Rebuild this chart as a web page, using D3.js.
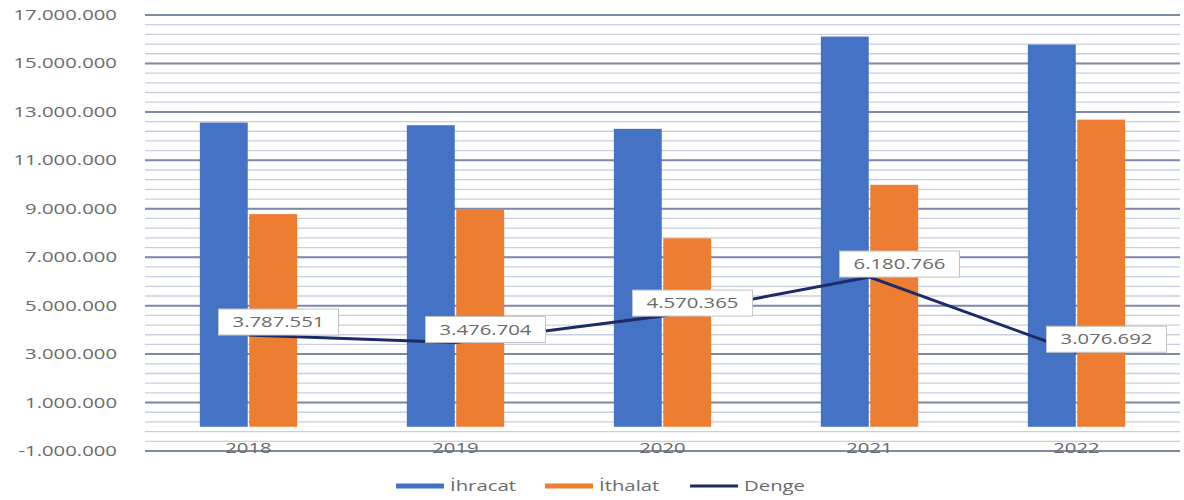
<!DOCTYPE html>
<html><head><meta charset="utf-8">
<script src="https://cdn.jsdelivr.net/npm/d3@7"></script>
<style>
html,body{margin:0;padding:0;background:#fff;}
text{font-family:"Open Sans",sans-serif;fill:#666;}
</style></head>
<body><svg id="c" width="1184" height="500"></svg>
<script>
const years = ["2018","2019","2020","2021","2022"];
const ihracat = [12560000, 12450000, 12300000, 16110000, 15780000];
const ithalat = [8780000, 8970000, 7780000, 9990000, 12680000];
const denge = [3787551, 3476704, 4570365, 6180766, 3076692];
const yTicks = [-1000000, 1000000, 3000000, 5000000, 7000000, 9000000, 11000000, 13000000, 15000000, 17000000];
const seriesNames = ["İhracat", "İthalat", "Denge"];

(function () {
const SX = 1.45;
const svg = d3.select("#c");
const pLeft = 145, pRight = 1180, pTop = 15, pBottom = 451;
const y = d3.scaleLinear().domain([-1000000, 17000000]).range([pBottom, pTop]);
const x = d3.scaleBand().domain(years).range([pLeft, pRight]).padding(0);
const groupW = x.bandwidth() * 0.47;
const x1 = d3.scaleBand().domain([0, 1]).range([0, groupW]).paddingInner(0.03);
const loc = d3.formatLocale({decimal: ",", thousands: ".", grouping: [3], currency: ["", ""], minus: "-"});
const fmt = loc.format(",");

function stretch(sel) {
  sel.each(function () {
    const w = this.getComputedTextLength();
    d3.select(this).attr("textLength", w * SX).attr("lengthAdjust", "spacingAndGlyphs");
  });
}

const minor = d3.range(-1000000, 17000001, 400000);
svg.append("g").selectAll("line").data(minor).join("line")
  .attr("x1", pLeft).attr("x2", pRight)
  .attr("y1", d => y(d)).attr("y2", d => y(d))
  .attr("stroke", "#c9cee2").attr("stroke-width", 1.3);

svg.append("g").selectAll("line").data(yTicks).join("line")
  .attr("x1", pLeft).attr("x2", pRight)
  .attr("y1", d => y(d)).attr("y2", d => y(d))
  .attr("stroke", "#7e88a8").attr("stroke-width", 2);

const yl = svg.append("g").selectAll("text").data(yTicks).join("text")
  .attr("x", 117).attr("y", d => y(d) + 5)
  .attr("text-anchor", "end").attr("font-size", 14).style("fill", "#6a6a6a")
  .text(d => fmt(d));
stretch(yl);

const colors = ["#4472c4", "#ed7d31"];
[ihracat, ithalat].forEach((arr, si) => {
  svg.append("g").selectAll("rect").data(arr).join("rect")
    .attr("x", (d, i) => x(years[i]) + (x.bandwidth() - groupW) / 2 + x1(si))
    .attr("width", x1.bandwidth())
    .attr("y", d => y(d))
    .attr("height", d => y(0) - y(d))
    .attr("fill", colors[si]);
});

const xl = svg.append("g").selectAll("text").data(years).join("text")
  .attr("x", d => x(d) + x.bandwidth() / 2).attr("y", 453)
  .attr("text-anchor", "middle").attr("font-size", 14).style("fill", "#6a6a6a")
  .text(d => d);
stretch(xl);

const cx = i => x(years[i]) + x.bandwidth() / 2;
const line = d3.line().x((d, i) => cx(i)).y(d => y(d));
svg.append("path").datum(denge).attr("d", line)
  .attr("fill", "none").attr("stroke", "#1c2a66").attr("stroke-width", 3);

const lg = svg.append("g").selectAll("g").data(denge).join("g")
  .attr("transform", (d, i) => `translate(${cx(i) - 30},${y(d) - 26})`);
lg.append("rect").attr("width", 120).attr("height", 26)
  .attr("fill", "#fff").attr("stroke", "#c4c4c4").attr("stroke-width", 1);
const lt = lg.append("text").attr("x", 60).attr("y", 18)
  .attr("text-anchor", "middle").attr("font-size", 14).style("fill", "#6a6a6a")
  .text(d => fmt(d));
stretch(lt);

const legend = svg.append("g");
const items = [
  {name: seriesNames[0], color: "#4472c4", lx: 396, h: 5},
  {name: seriesNames[1], color: "#ed7d31", lx: 545, h: 5},
  {name: seriesNames[2], color: "#1c2a66", lx: 690, h: 3}
];
items.forEach(it => {
  legend.append("rect").attr("x", it.lx).attr("y", 486 - it.h / 2).attr("width", 48).attr("height", it.h).attr("fill", it.color);
  const t = legend.append("text").attr("x", it.lx + 54).attr("y", 491)
    .attr("font-size", 14).style("fill", "#6a6a6a").text(it.name);
  stretch(t);
});
})();
</script></body></html>
